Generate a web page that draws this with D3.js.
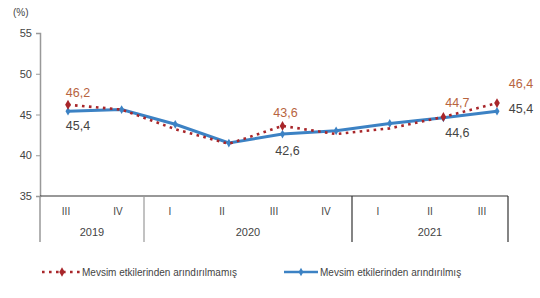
<!DOCTYPE html>
<html>
<head>
<meta charset="utf-8">
<style>
 body { margin: 0; background: #fff; }
 svg { font-family: "Liberation Sans", Arial, sans-serif; background: #fff; }
</style>
</head>
<body>
<svg width="540" height="298"></svg>
<script src="https://d3js.org/d3.v7.min.js"></script>
<script>

var quarters = ["III", "IV", "I", "II", "III", "IV", "I", "II", "III"];
var years = ["2019", "2020", "2021"];
var yearSpans = [2, 4, 3];
var unadjusted = [46.2, 45.6, 43.2, 41.4, 43.6, 42.6, 43.3, 44.7, 46.4];
var adjusted = [45.4, 45.6, 43.8, 41.5, 42.6, 43.0, 43.9, 44.6, 45.4];
var yTicks = [35, 40, 45, 50, 55];
var seriesNames = ["Mevsim etkilerinden arındırılmamış", "Mevsim etkilerinden arındırılmış"];
// which points carry a value label
var redLabelled = [0, 4, 7, 8];
var blueLabelled = [0, 4, 7, 8];

var svg = d3.select("svg"),
    plotLeft = 40, plotRight = 508, plotTop = 33, plotBottom = 196;

// category bands for the axis labels
var x = d3.scaleBand()
    .domain(d3.range(quarters.length))
    .range([plotLeft, plotRight]);
// the lines' points sit a little right of the band centres, as in the original
var xp = d3.scalePoint()
    .domain(d3.range(quarters.length))
    .range([68, 497]);
var y = d3.scaleLinear()
    .domain([35, 55])
    .range([plotBottom, plotTop]);

var red = "#a8262a", blue = "#3c82c4";

// y axis
var yAxis = d3.axisLeft(y).tickValues(yTicks).tickSize(4).tickPadding(4);
var yG = svg.append("g")
    .attr("transform", "translate(" + plotLeft + ",0)")
    .call(yAxis);
yG.select(".domain").attr("stroke", "#999").attr("stroke-width", 1.5);
yG.selectAll(".tick line").attr("stroke", "#999");
yG.selectAll("text").style("font-size", "11px").attr("fill", "#444");

svg.append("text")
    .attr("x", 13).attr("y", 16)
    .style("font-size", "10px").attr("fill", "#444")
    .text("(%)");

// x axis line
svg.append("line")
    .attr("x1", plotLeft).attr("x2", plotRight)
    .attr("y1", plotBottom).attr("y2", plotBottom)
    .attr("stroke", "#333").attr("stroke-width", 1.2);

// quarter labels
svg.selectAll(".q").data(quarters).enter().append("text")
    .attr("x", function(d, i){ return x(i) + x.bandwidth()/2; })
    .attr("y", 215)
    .attr("text-anchor", "middle")
    .style("font-size", "10px").attr("fill", "#444")
    .text(function(d){ return d; });

// year groups and separators
var start = 0;
years.forEach(function(yr, k){
    var x0 = x(start), x1 = x(start + yearSpans[k] - 1) + x.bandwidth();
    svg.append("text")
        .attr("x", (x0 + x1)/2).attr("y", 236)
        .attr("text-anchor", "middle")
        .style("font-size", "11px").attr("fill", "#444")
        .text(yr);
    svg.append("line")
        .attr("x1", x1).attr("x2", x1)
        .attr("y1", plotBottom).attr("y2", 242)
        .attr("stroke", k == 0 ? "#999" : "#333").attr("stroke-width", 1.2);
    start += yearSpans[k];
});
svg.append("line")
    .attr("x1", plotLeft).attr("x2", plotLeft)
    .attr("y1", plotBottom).attr("y2", 242)
    .attr("stroke", "#999").attr("stroke-width", 1.5);

var cx = function(d, i){ return xp(i); };
var line = d3.line().x(cx).y(function(d){ return y(d); });

// blue line (adjusted)
svg.append("path").datum(adjusted)
    .attr("d", line)
    .attr("fill", "none").attr("stroke", blue).attr("stroke-width", 3);
svg.selectAll(".bm").data(adjusted).enter().append("path")
    .attr("d", d3.symbol().type(d3.symbolDiamond).size(22))
    .attr("transform", function(d, i){ return "translate(" + cx(d, i) + "," + y(d) + ")"; })
    .attr("fill", blue);

// red dotted line (unadjusted)
svg.append("path").datum(unadjusted)
    .attr("d", line)
    .attr("fill", "none").attr("stroke", red).attr("stroke-width", 2.6)
    .attr("stroke-dasharray", "2.6,4.4");
svg.selectAll(".rm").data(redLabelled).enter().append("path")
    .attr("d", d3.symbol().type(d3.symbolDiamond).size(28))
    .attr("transform", function(i){ return "translate(" + xp(i) + "," + y(unadjusted[i]) + ")"; })
    .attr("fill", red);

var fmt = function(v){ return v.toFixed(1).replace(".", ","); };

// value labels
var redPos = [[10, -8], [3, -9], [14, -10], [24, -15]];
svg.selectAll(".rl").data(redLabelled).enter().append("text")
    .attr("x", function(i, k){ return xp(i) + redPos[k][0]; })
    .attr("y", function(i, k){ return y(unadjusted[i]) + redPos[k][1]; })
    .attr("text-anchor", "middle")
    .style("font-size", "12.5px").attr("fill", "#b8643e")
    .text(function(i){ return fmt(unadjusted[i]); });

var bluePos = [[10, 19], [5, 21], [14, 19], [24, 2]];
svg.selectAll(".bl").data(blueLabelled).enter().append("text")
    .attr("x", function(i, k){ return xp(i) + bluePos[k][0]; })
    .attr("y", function(i, k){ return y(adjusted[i]) + bluePos[k][1]; })
    .attr("text-anchor", "middle")
    .style("font-size", "12.5px").attr("fill", "#444")
    .text(function(i){ return fmt(adjusted[i]); });

// legend
var ly = 272;
var lg = svg.append("g");
lg.append("line")
    .attr("x1", 42).attr("x2", 80).attr("y1", ly).attr("y2", ly)
    .attr("stroke", red).attr("stroke-width", 2.6).attr("stroke-dasharray", "2.6,4.4");
lg.append("path")
    .attr("d", d3.symbol().type(d3.symbolDiamond).size(26))
    .attr("transform", "translate(62," + ly + ")").attr("fill", red);
lg.append("text")
    .attr("x", 82).attr("y", ly + 3.5)
    .style("font-size", "10px").attr("fill", "#444")
    .text(seriesNames[0]);
lg.append("line")
    .attr("x1", 284).attr("x2", 318).attr("y1", ly).attr("y2", ly)
    .attr("stroke", blue).attr("stroke-width", 2.6);
lg.append("path")
    .attr("d", d3.symbol().type(d3.symbolDiamond).size(20))
    .attr("transform", "translate(301," + ly + ")").attr("fill", blue);
lg.append("text")
    .attr("x", 320).attr("y", ly + 3.5)
    .style("font-size", "10px").attr("fill", "#444")
    .text(seriesNames[1]);

</script>
</body>
</html>
